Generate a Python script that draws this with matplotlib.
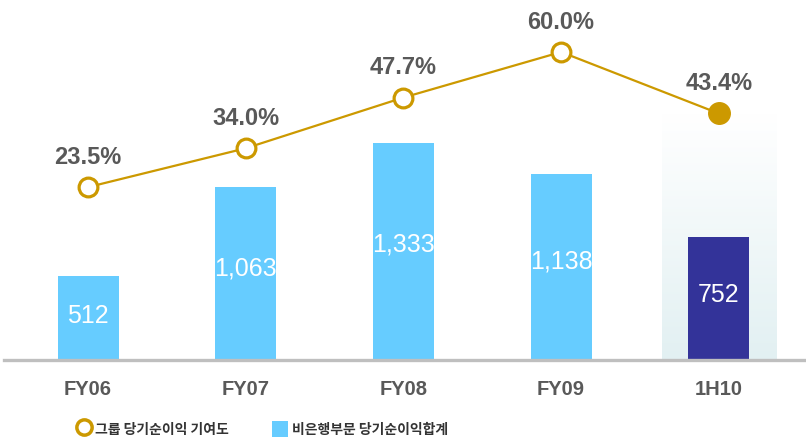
import numpy as np
import matplotlib
matplotlib.use("Agg")
import matplotlib.pyplot as plt
from matplotlib.lines import Line2D
from matplotlib.patches import Patch
from matplotlib.colors import LinearSegmentedColormap

# ---- data ----
categories = ["FY06", "FY07", "FY08", "FY09", "1H10"]
bar_values = [512, 1063, 1333, 1138, 752]
bar_labels = ["512", "1,063", "1,333", "1,138", "752"]
pct_values = [23.5, 34.0, 47.7, 60.0, 43.4]
pct_labels = ["23.5%", "34.0%", "47.7%", "60.0%", "43.4%"]
legend_line = "그룹 당기순이익 기여도"
legend_bar = "비은행부문 당기순이익합계"

num_font = ["Liberation Sans", "DejaVu Sans"]
kr_font = ["Noto Sans CJK KR", "DejaVu Sans"]
plt.rcParams["font.family"] = num_font

W, H = 806, 441
fig = plt.figure(figsize=(W / 100, H / 100), dpi=100)
# axes: left x=4px, right=806px, top y=0, bottom y=360
ax = fig.add_axes([4 / W, (H - 360) / H, 802 / W, 360 / H])
ax2 = ax.twinx()

x = np.arange(len(categories))
ax.set_xlim(-0.533, 4.553)
ax.set_ylim(0, 2207)
ax2.set_ylim(-23.2, 74.05)

light = "#66ccff"
dark = "#333399"
gold = "#cc9900"

# highlight gradient behind last category
grad = np.linspace(0, 1, 256).reshape(-1, 1)
cmap = LinearSegmentedColormap.from_list("hl", ["#ffffff", "#e2f0f2"])
ax.imshow(grad, cmap=cmap, aspect="auto", origin="upper",
          extent=(x[-1] - 0.363, x[-1] + 0.363, 0, 1502), zorder=0)

colors = [light] * (len(categories) - 1) + [dark]
ax.bar(x, bar_values, width=0.387, color=colors, zorder=2)
for xi, v, lab in zip(x, bar_values, bar_labels):
    ax.text(xi, v * 0.53, lab, ha="center", va="center", color="white",
            fontsize=18, zorder=3)

ax.axhline(0, color="#bfbfbf", lw=2.4, zorder=4, clip_on=False)

# line on secondary axis
ax2.plot(x, pct_values, color=gold, lw=1.6, zorder=3)
ax2.plot(x[:-1], pct_values[:-1], ls="none", marker="o", ms=13.5,
         mfc="white", mec=gold, mew=2.3, zorder=4)
ax2.plot(x[-1:], pct_values[-1:], ls="none", marker="o", ms=15.5,
         mfc=gold, mec=gold, zorder=4)
for xi, v, lab in zip(x, pct_values, pct_labels):
    ax2.annotate(lab, (xi, v), xytext=(0, 21.5), textcoords="offset points",
                 ha="center", va="center", color="#595959", fontsize=17,
                 fontweight="bold")

ax.set_xticks(x)
ax.set_xticklabels(categories, fontsize=14.5, fontweight="bold", color="#595959")
ax.tick_params(axis="x", length=0, pad=14.5)
ax.set_yticks([])
ax2.set_yticks([])
for a in (ax, ax2):
    for s in a.spines.values():
        s.set_visible(False)
    a.patch.set_visible(False)

handles = [
    Line2D([], [], ls="none", marker="o", ms=11, mfc="white", mec=gold, mew=2.5),
    Patch(facecolor=light, edgecolor="none"),
]
leg = fig.legend(handles, [legend_line, legend_bar], loc="center left",
                 bbox_to_anchor=(76 / W, 1 - 429 / H), ncol=2, frameon=False,
                 prop={"family": kr_font, "size": 10, "weight": "bold"},
                 handlelength=1.1, handleheight=1.4, handletextpad=0.3,
                 columnspacing=3.1, borderpad=0, borderaxespad=0)
for t in leg.get_texts():
    t.set_color("#333333")

fig.savefig("out.png", dpi=100)
